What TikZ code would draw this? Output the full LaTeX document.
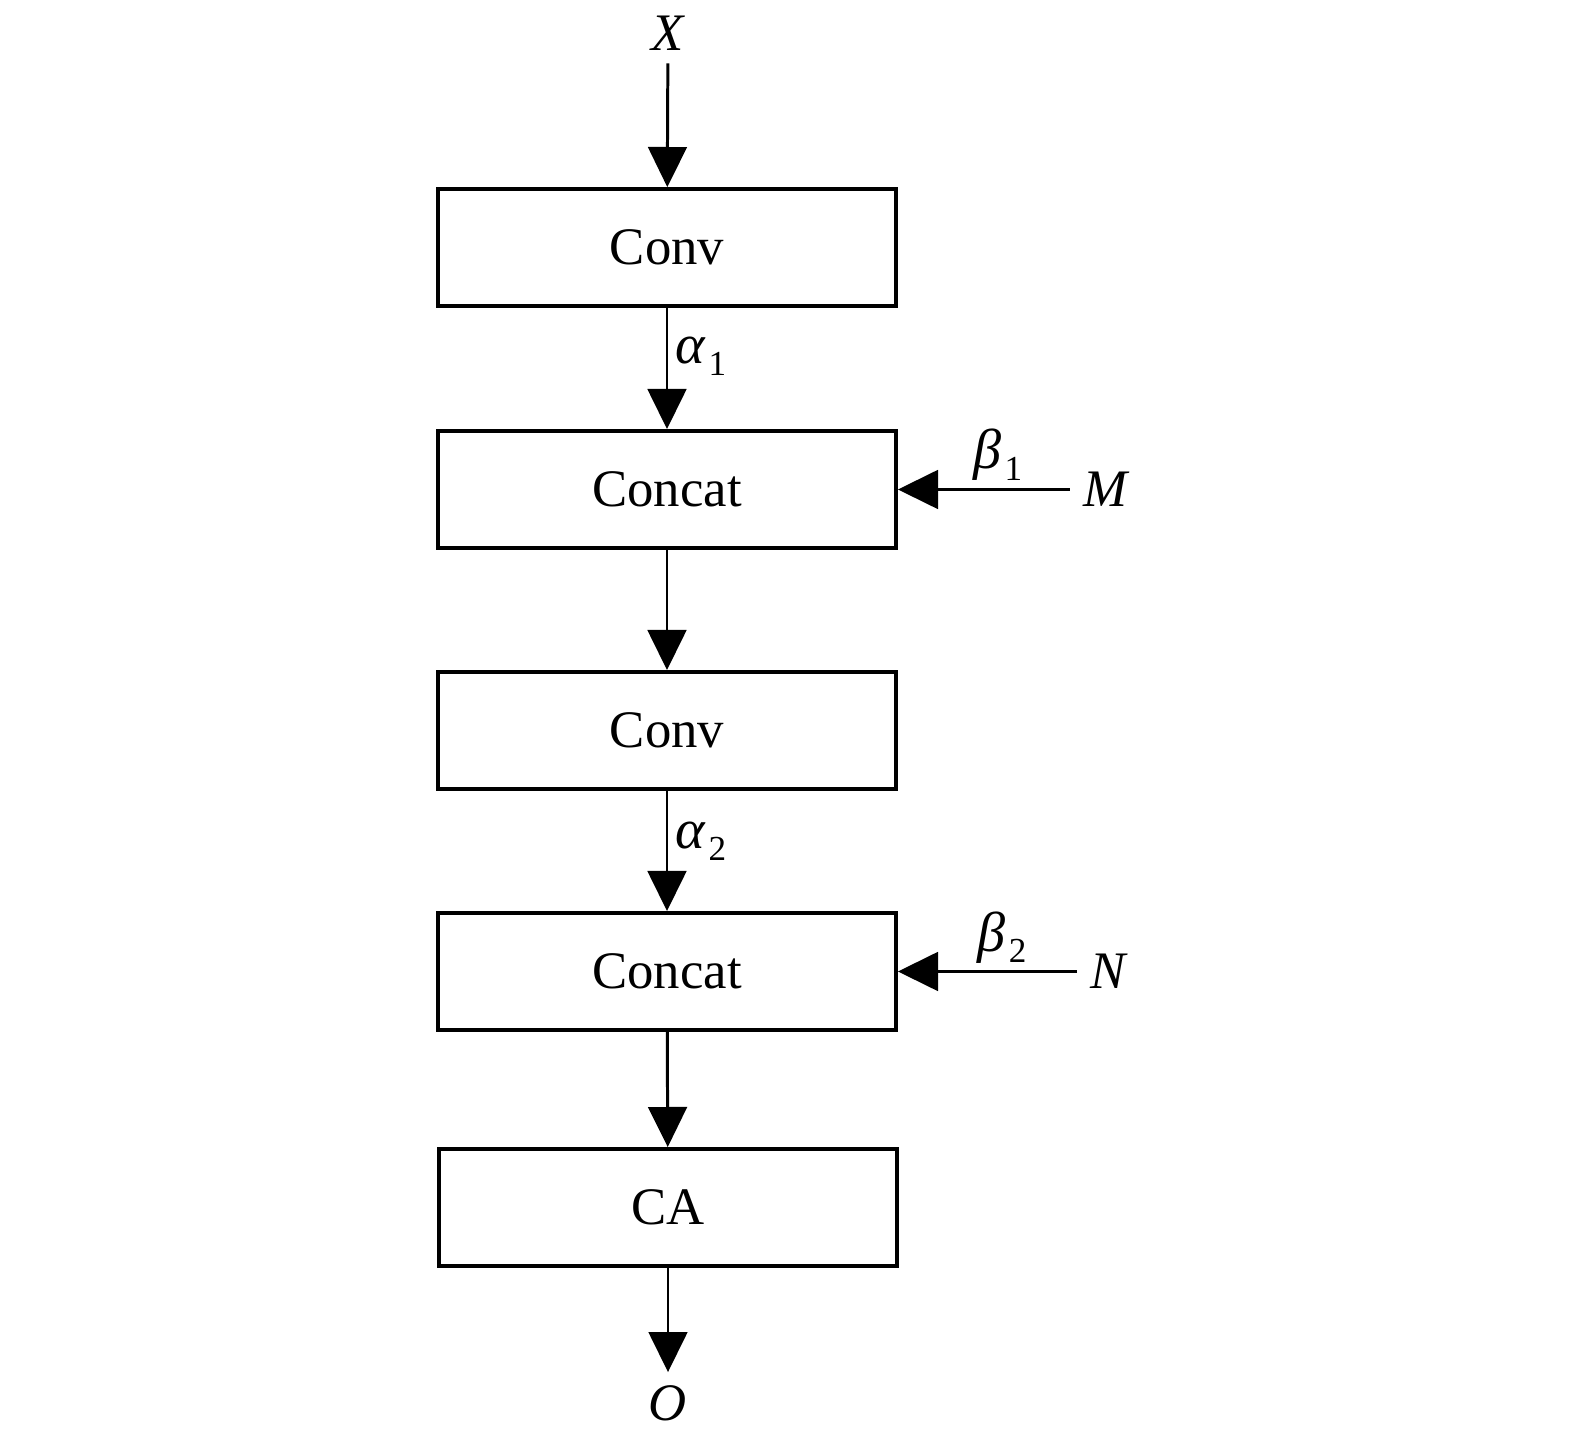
\documentclass[tikz,border=0pt]{standalone}
\usepackage{fontspec}
\setmainfont{Liberation Serif}
\usepackage{tikz}
\usetikzlibrary{positioning, arrows.meta}

\newcommand{\idx}[1]{\kern1pt\raisebox{-0.45ex}{\fontsize{10}{11}\selectfont #1}}

\begin{document}
\begin{tikzpicture}
            [block/.style={draw, line width=1.1pt, minimum width=4.58cm, minimum height=1.17cm,
                           font=\fontsize{15}{18}\selectfont},
             lbl/.style={font=\fontsize{15}{18}\selectfont\itshape},
             sub/.style={font=\fontsize{16}{18}\selectfont, inner sep=2pt},
             line width=0.85pt, >={Triangle[length=11.4pt, width=11pt]}]
            \useasboundingbox (0,0) rectangle (15.75,-14.47);

            \node[block] (conv1) at (6.67,-2.475) {Conv};
            \node[block] (concat1) at (6.67,-4.895) {Concat};
            \node[block] (conv2) at (6.67,-7.305) {Conv};
            \node[block] (concat2) at (6.67,-9.715) {Concat};
            \node[block] (ca) at (6.68,-12.075) {CA};

            \node[lbl] (X) at (6.68,-0.33) {X};
            \node[lbl] (M) at (11.05,-4.895) {M};
            \node[lbl] (N) at (11.08,-9.715) {N};
            \node[lbl] (O) at (6.68,-14.03) {O};

            \path [->] (X) edge (conv1);
            \path [->] (conv1) edge node[sub, right, pos=0.4] {{\itshape α}\idx{1}} (concat1);
            \path [->] (M) edge node[sub, above, pos=0.42] {{\itshape β}\idx{1}} (concat1);
            \path [->] (concat1) edge (conv2);
            \path [->] (conv2) edge node[sub, right, pos=0.42] {{\itshape α}\idx{2}} (concat2);
            \path [->] (N) edge node[sub, above, pos=0.42] {{\itshape β}\idx{2}} (concat2);
            \path [->] (concat2) edge (ca);
            \path [->] (ca) edge (O);
        \end{tikzpicture}
\end{document}
